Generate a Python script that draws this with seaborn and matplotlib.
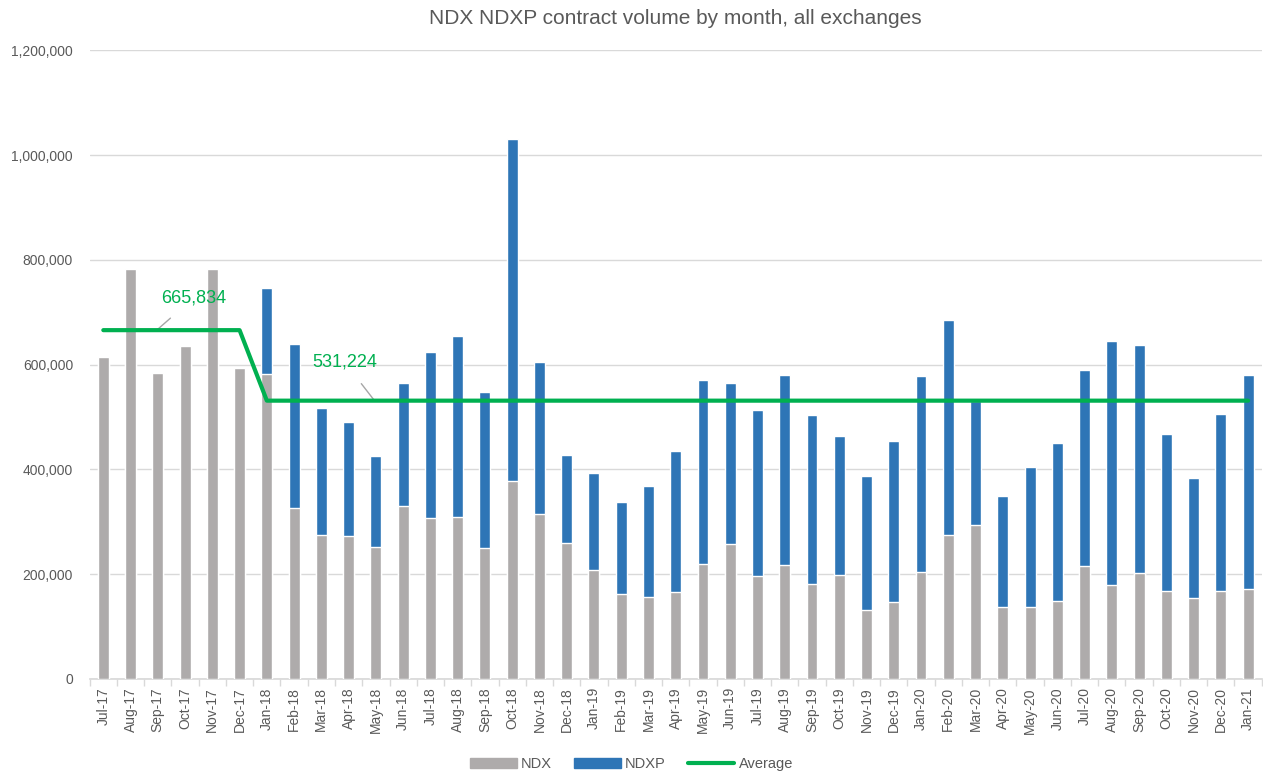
import numpy as np
import pandas as pd
import matplotlib
matplotlib.use("Agg")
import matplotlib.pyplot as plt
import seaborn as sns
from matplotlib.patches import Patch
from matplotlib.lines import Line2D

# --- Data ---
months = ["Jul-17", "Aug-17", "Sep-17", "Oct-17", "Nov-17", "Dec-17",
          "Jan-18", "Feb-18", "Mar-18", "Apr-18", "May-18", "Jun-18",
          "Jul-18", "Aug-18", "Sep-18", "Oct-18", "Nov-18", "Dec-18",
          "Jan-19", "Feb-19", "Mar-19", "Apr-19", "May-19", "Jun-19",
          "Jul-19", "Aug-19", "Sep-19", "Oct-19", "Nov-19", "Dec-19",
          "Jan-20", "Feb-20", "Mar-20", "Apr-20", "May-20", "Jun-20",
          "Jul-20", "Aug-20", "Sep-20", "Oct-20", "Nov-20", "Dec-20",
          "Jan-21"]
ndx = [614000, 783000, 584000, 635000, 783000, 593000,
       583000, 326000, 275000, 273000, 252000, 331000,
       307000, 310000, 250000, 377000, 315000, 260000,
       208000, 162000, 157000, 165000, 220000, 258000,
       196000, 218000, 182000, 198000, 131000, 147000,
       205000, 275000, 294000, 137000, 137000, 148000,
       215000, 180000, 202000, 167000, 155000, 168000,
       172000]
ndxp = [0, 0, 0, 0, 0, 0,
        163000, 314000, 242000, 217000, 173000, 234000,
        317000, 345000, 298000, 653000, 290000, 168000,
        185000, 176000, 212000, 270000, 350000, 307000,
        317000, 362000, 322000, 266000, 256000, 307000,
        373000, 411000, 236000, 213000, 267000, 303000,
        375000, 465000, 435000, 300000, 229000, 337000,
        409000]
avg_before = 665834
avg_after = 531224
average = [avg_before] * 6 + [avg_after] * 37

NDX_COLOR = "#AEABAB"
NDXP_COLOR = "#2E75B6"
AVG_COLOR = "#00B050"
TEXT_COLOR = "#595959"

df = pd.DataFrame({"month": months, "NDX": ndx, "NDXP": ndxp})
df["total"] = df["NDX"] + df["NDXP"]

sns.set_theme(style="white")
plt.rcParams["font.family"] = ["Liberation Sans", "DejaVu Sans"]

fig, ax = plt.subplots(figsize=(12.63, 7.75), dpi=100)
fig.subplots_adjust(left=0.071, right=0.999, top=0.935, bottom=0.124)

# stacked bars: total in blue, NDX drawn over it in gray
sns.barplot(data=df, x="month", y="total", color=NDXP_COLOR, width=0.4,
            saturation=1, ax=ax, zorder=2)
sns.barplot(data=df, x="month", y="NDX", color=NDX_COLOR, width=0.4,
            saturation=1, ax=ax, zorder=3)
sns.lineplot(x=np.arange(len(months)), y=average, color=AVG_COLOR,
             linewidth=3, ax=ax, zorder=4)

ax.set_xlim(-0.5, len(months) - 0.5)
ax.set_ylim(0, 1200000)
ax.set_yticks(np.arange(0, 1200001, 200000))
ax.yaxis.set_major_formatter(plt.FuncFormatter(lambda v, p: f"{v:,.0f}"))
ax.yaxis.grid(True, color="#D9D9D9", linewidth=1, zorder=0)
ax.set_axisbelow(True)
ax.set_xlabel("")
ax.set_ylabel("")

for side in ["left", "right", "top"]:
    ax.spines[side].set_visible(False)
ax.spines["bottom"].set_color("#D9D9D9")

ax.tick_params(axis="y", length=0, labelsize=10, labelcolor=TEXT_COLOR, pad=12)
ax.tick_params(axis="x", length=0, labelsize=10, labelcolor=TEXT_COLOR,
               rotation=90, pad=6)
# category separator ticks on the x axis
ax.set_xticks(np.arange(-0.5, len(months), 1), minor=True)
ax.tick_params(axis="x", which="minor", length=5, color="#D9D9D9",
               bottom=True)

ax.set_title("NDX NDXP contract volume by month, all exchanges",
             fontsize=15, color=TEXT_COLOR, pad=19)

# data labels for the average line
ax.annotate("665,834", xy=(1.96, avg_before), xytext=(3.3, 727000),
            color=AVG_COLOR, fontsize=13, ha="center", va="center",
            arrowprops=dict(arrowstyle="-", color="#A6A6A6", lw=1,
                            shrinkA=9, shrinkB=0))
ax.annotate("531,224", xy=(9.95, avg_after), xytext=(8.85, 605000),
            color=AVG_COLOR, fontsize=13, ha="center", va="center",
            arrowprops=dict(arrowstyle="-", color="#A6A6A6", lw=1,
                            shrinkA=9, shrinkB=0))

handles = [Patch(color=NDX_COLOR, label="NDX"),
           Patch(color=NDXP_COLOR, label="NDXP"),
           Line2D([0], [0], color=AVG_COLOR, lw=3, label="Average")]
fig.legend(handles=handles, loc="lower center", ncol=3, frameon=False,
           bbox_to_anchor=(0.5, -0.012), fontsize=10.5, labelcolor=TEXT_COLOR,
           handlelength=3.2, handleheight=0.6, columnspacing=1.5,
           handletextpad=0.3)

fig.savefig("out.png", dpi=100)
